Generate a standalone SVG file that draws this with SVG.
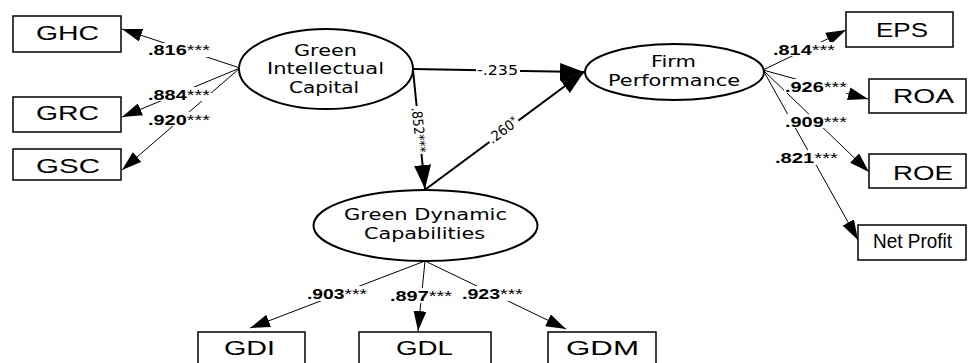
<svg xmlns="http://www.w3.org/2000/svg" width="968" height="363" viewBox="0 0 968 363">
<style>
.box{fill:#fff;stroke:#000;stroke-width:1.5}
.ell{fill:#fff;stroke:#000;stroke-width:2}
.bt{font-family:"Liberation Sans",Arial,sans-serif;font-size:21px;fill:#000}
.et{font-family:"DejaVu Sans",Verdana,sans-serif;font-size:16px;fill:#000}
.lb{font-family:"Liberation Sans",Arial,sans-serif;font-size:15px;font-weight:bold;fill:#000}
.st{font-weight:normal;font-size:15px}
.pl{font-family:"DejaVu Sans",Verdana,sans-serif;font-size:14px;fill:#000}
.ind{stroke:#000;stroke-width:1;fill:none;marker-end:url(#ah)}
.str{stroke:#000;stroke-width:2;fill:none;marker-end:url(#ahb)}
.bg{fill:#fff}
</style>
<defs>
<marker id="ah" markerUnits="userSpaceOnUse" markerWidth="20" markerHeight="13" refX="20" refY="6.5" orient="auto"><path d="M0,0 L20,6.5 L0,13 z" fill="#000"/></marker>
<marker id="ahb" markerUnits="userSpaceOnUse" markerWidth="24" markerHeight="17" refX="24" refY="8.5" orient="auto"><path d="M0,0 L24,8.5 L0,17 z" fill="#000"/></marker>
</defs>
<rect width="968" height="363" fill="#fff"/>
<g id="connectors">
<line class="ind" x1="240" y1="68" x2="122" y2="29"/>
<line class="ind" x1="240" y1="68" x2="122" y2="117"/>
<line class="ind" x1="240" y1="68" x2="122" y2="170"/>
<line class="str" x1="413" y1="69" x2="584" y2="72"/>
<line class="str" x1="413" y1="70" x2="425" y2="189"/>
<line class="str" x1="426" y1="189" x2="584" y2="72"/>
<line class="ind" x1="763" y1="70" x2="846" y2="30"/>
<line class="ind" x1="763" y1="70" x2="868" y2="99"/>
<line class="ind" x1="763" y1="70" x2="869" y2="172"/>
<line class="ind" x1="763" y1="70" x2="858" y2="240"/>
<line class="ind" x1="425" y1="261" x2="250" y2="328"/>
<line class="ind" x1="425" y1="261" x2="418" y2="331"/>
<line class="ind" x1="425" y1="261" x2="566" y2="329"/>
</g>
<g id="labels">
<rect class="bg" x="147" y="43" width="64" height="14"/>
<text class="lb" x="148" y="55" textLength="62" lengthAdjust="spacingAndGlyphs">.816<tspan class="st">***</tspan></text>
<rect class="bg" x="147" y="87" width="64" height="14"/>
<text class="lb" x="148" y="100" textLength="62" lengthAdjust="spacingAndGlyphs">.884<tspan class="st">***</tspan></text>
<rect class="bg" x="147" y="112" width="64" height="14"/>
<text class="lb" x="148" y="125" textLength="62" lengthAdjust="spacingAndGlyphs">.920<tspan class="st">***</tspan></text>
<rect class="bg" x="772" y="42" width="64" height="14"/>
<text class="lb" x="773" y="55" textLength="62" lengthAdjust="spacingAndGlyphs">.814<tspan class="st">***</tspan></text>
<rect class="bg" x="784" y="79" width="64" height="14"/>
<text class="lb" x="785" y="92" textLength="62" lengthAdjust="spacingAndGlyphs">.926<tspan class="st">***</tspan></text>
<rect class="bg" x="786" y="114" width="62" height="14"/>
<text class="lb" x="785" y="127" textLength="62" lengthAdjust="spacingAndGlyphs">.909<tspan class="st">***</tspan></text>
<rect class="bg" x="774" y="150" width="65" height="15"/>
<text class="lb" x="775" y="163" textLength="63" lengthAdjust="spacingAndGlyphs">.821<tspan class="st">***</tspan></text>
<rect class="bg" x="306" y="286" width="62" height="15"/>
<text class="lb" x="307" y="299" textLength="60" lengthAdjust="spacingAndGlyphs">.903<tspan class="st">***</tspan></text>
<rect class="bg" x="389" y="288" width="64" height="15"/>
<text class="lb" x="390" y="301" textLength="62" lengthAdjust="spacingAndGlyphs">.897<tspan class="st">***</tspan></text>
<rect class="bg" x="461" y="286" width="63" height="15"/>
<text class="lb" x="462" y="299" textLength="61" lengthAdjust="spacingAndGlyphs">.923<tspan class="st">***</tspan></text>
<rect class="bg" x="476" y="63" width="44" height="14"/>
<text class="pl" x="477" y="75" textLength="41" lengthAdjust="spacingAndGlyphs">-.235</text>
<g transform="translate(419,130) rotate(84)">
<rect class="bg" x="-24" y="-9" width="48" height="16"/>
<text class="pl" x="-23" y="5" textLength="46" lengthAdjust="spacingAndGlyphs">.852<tspan font-size="14">***</tspan></text>
</g>
<g transform="translate(503,130) rotate(-36.6)">
<rect class="bg" x="-18" y="-9" width="36" height="16"/>
<text class="pl" x="-17" y="5" textLength="34" lengthAdjust="spacingAndGlyphs">.260<tspan font-size="11" dy="-3">*</tspan></text>
</g>
</g>
<g id="GIC">
<ellipse class="ell" cx="326" cy="69" rx="87" ry="40"/>
<text class="et" x="294" y="56" textLength="63" lengthAdjust="spacingAndGlyphs">Green</text>
<text class="et" x="267" y="74" textLength="117" lengthAdjust="spacingAndGlyphs">Intellectual</text>
<text class="et" x="289" y="93" textLength="70" lengthAdjust="spacingAndGlyphs">Capital</text>
</g>
<g id="FP">
<ellipse class="ell" cx="674.5" cy="72" rx="89.5" ry="28"/>
<text class="et" x="651" y="67" textLength="45" lengthAdjust="spacingAndGlyphs">Firm</text>
<text class="et" x="608" y="86" textLength="132" lengthAdjust="spacingAndGlyphs">Performance</text>
</g>
<g id="GDC">
<ellipse class="ell" cx="425.5" cy="225.5" rx="112" ry="35.5"/>
<text class="et" x="344" y="220" textLength="163" lengthAdjust="spacingAndGlyphs">Green Dynamic</text>
<text class="et" x="364" y="239" textLength="121" lengthAdjust="spacingAndGlyphs">Capabilities</text>
</g>
<g id="GHC"><rect class="box" x="13" y="16" width="108" height="36"/><text class="bt" x="36" y="40" textLength="63" lengthAdjust="spacingAndGlyphs">GHC</text></g>
<g id="GRC"><rect class="box" x="13" y="97" width="108" height="35"/><text class="bt" x="36" y="120" textLength="63" lengthAdjust="spacingAndGlyphs">GRC</text></g>
<g id="GSC"><rect class="box" x="13" y="149" width="108" height="31"/><text class="bt" x="36" y="173" textLength="64" lengthAdjust="spacingAndGlyphs">GSC</text></g>
<g id="EPS"><rect class="box" x="846" y="12" width="107" height="35"/><text class="bt" x="876" y="37" textLength="52" lengthAdjust="spacingAndGlyphs">EPS</text></g>
<g id="ROA"><rect class="box" x="869" y="79" width="97" height="34"/><text class="bt" x="893" y="103" textLength="61" lengthAdjust="spacingAndGlyphs">ROA</text></g>
<g id="ROE"><rect class="box" x="869" y="154" width="97" height="34"/><text class="bt" x="893" y="180" textLength="60" lengthAdjust="spacingAndGlyphs">ROE</text></g>
<g id="NetProfit"><rect class="box" x="858" y="225" width="108" height="35"/><text class="bt" x="873" y="248" font-size="15" textLength="79" lengthAdjust="spacingAndGlyphs">Net Profit</text></g>
<g id="GDI"><rect class="box" x="198" y="332" width="107" height="40"/><text class="bt" x="224" y="355" textLength="51" lengthAdjust="spacingAndGlyphs">GDI</text></g>
<g id="GDL"><rect class="box" x="359" y="332" width="132" height="40"/><text class="bt" x="396" y="355" textLength="57" lengthAdjust="spacingAndGlyphs">GDL</text></g>
<g id="GDM"><rect class="box" x="548" y="332" width="108" height="40"/><text class="bt" x="566" y="355" textLength="73" lengthAdjust="spacingAndGlyphs">GDM</text></g>
</svg>
